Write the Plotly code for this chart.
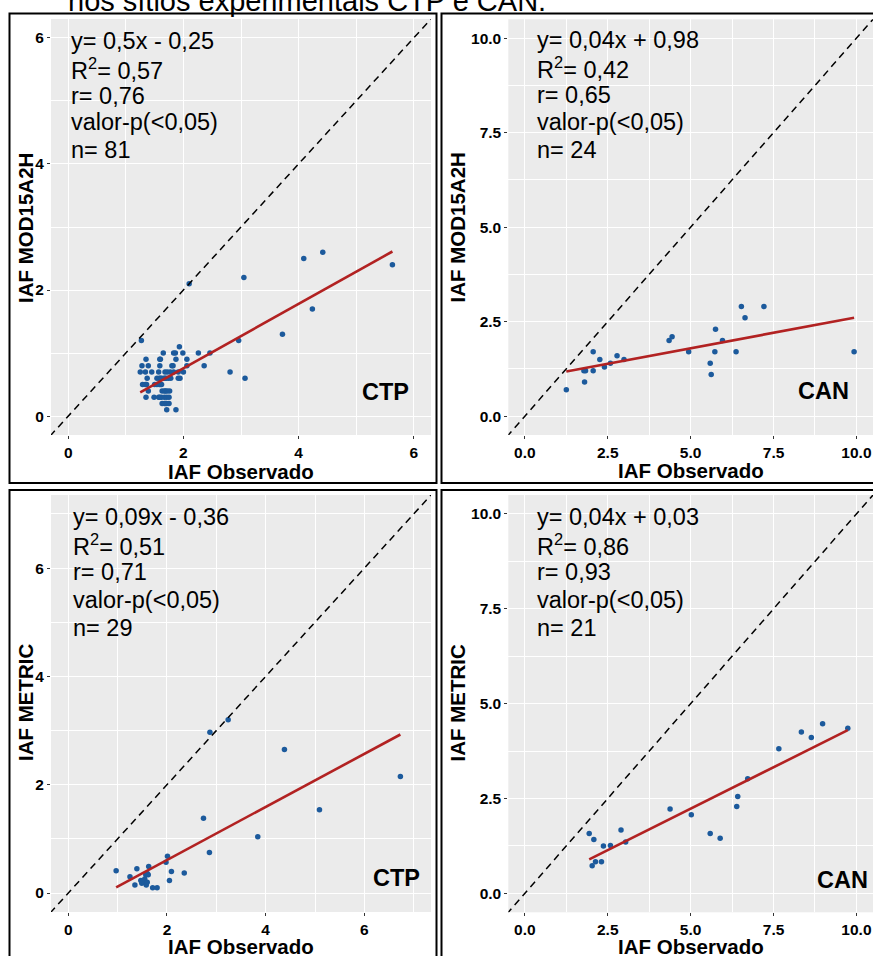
import plotly.graph_objects as go

W, H = 873, 956


def px(x):
    return x / W


def py(y):
    return 1 - y / H


# ---------------- data ----------------
# Panel 1: CTP, IAF MOD15A2H vs IAF Observado (n = 81)
ctp_mod_x = [2.10, 3.05, 4.09, 4.42, 5.63, 4.24, 3.72, 2.96, 2.81, 3.07, 1.27, 1.93,
             1.65, 1.83, 1.86, 1.99, 2.26, 2.46,
             1.35, 1.59, 1.60, 1.87, 2.06,
             1.28, 1.39, 1.59, 1.80, 1.82, 2.06, 2.36,
             1.25, 1.34, 1.45, 1.57, 1.68, 1.72, 1.77, 1.83, 1.91, 2.00,
             1.37, 1.54, 1.58, 1.60, 1.62, 1.66, 1.68, 1.70, 1.74, 1.78, 1.91, 1.94,
             1.29, 1.34, 1.36, 1.50, 1.54, 1.58, 1.60, 1.62,
             1.39, 1.63, 1.67, 1.69, 1.72, 1.76,
             1.35, 1.49, 1.57, 1.59, 1.62, 1.67, 1.71, 1.75,
             1.63, 1.67, 1.69, 1.71, 1.75,
             1.71, 1.87]
ctp_mod_y = [2.1, 2.2, 2.5, 2.6, 2.4, 1.7, 1.3, 1.2, 0.7, 0.6, 1.2, 1.1,
             1.0, 1.0, 1.0, 1.0, 1.0, 1.0,
             0.9, 0.9, 0.9, 0.9, 0.9,
             0.8, 0.8, 0.8, 0.8, 0.8, 0.8, 0.8,
             0.7, 0.7, 0.7, 0.7, 0.7, 0.7, 0.7, 0.7, 0.7, 0.7,
             0.6, 0.6, 0.6, 0.6, 0.6, 0.6, 0.6, 0.6, 0.6, 0.6, 0.6, 0.6,
             0.5, 0.5, 0.5, 0.5, 0.5, 0.5, 0.5, 0.5,
             0.4, 0.4, 0.4, 0.4, 0.4, 0.4,
             0.3, 0.3, 0.3, 0.3, 0.3, 0.3, 0.3, 0.3,
             0.2, 0.2, 0.2, 0.2, 0.2,
             0.1, 0.1]

# Panel 2: CAN, IAF MOD15A2H vs IAF Observado (n = 24)
can_mod_x = [1.25, 1.78, 1.83, 1.80, 2.06, 2.06, 2.26, 2.40, 2.58, 2.78, 2.99, 4.35,
             4.44, 4.94, 5.59, 5.62, 5.73, 5.75, 5.96, 6.37, 6.53, 6.64, 7.21, 9.93]
can_mod_y = [0.70, 1.20, 1.20, 0.90, 1.70, 1.20, 1.50, 1.30, 1.40, 1.60, 1.50, 2.00,
             2.10, 1.70, 1.40, 1.10, 1.70, 2.30, 2.00, 1.70, 2.90, 2.60, 2.90, 1.70]

# Panel 3: CTP, IAF METRIC vs IAF Observado (n = 29)
ctp_met_x = [0.97, 1.25, 1.39, 1.35, 1.47, 1.49, 1.52, 1.55, 1.58, 1.60, 1.62, 1.57,
             1.60, 1.63, 1.71, 1.80, 2.01, 1.98, 2.09, 2.05, 2.35, 2.74, 2.86, 3.84,
             2.87, 3.24, 4.38, 5.09, 6.73]
ctp_met_y = [0.41, 0.30, 0.45, 0.15, 0.23, 0.18, 0.22, 0.26, 0.15, 0.20, 0.34, 0.34,
             0.36, 0.49, 0.10, 0.10, 0.68, 0.57, 0.40, 0.23, 0.37, 1.38, 0.75, 1.04,
             2.97, 3.20, 2.65, 1.54, 2.15]

# Panel 4: CAN, IAF METRIC vs IAF Observado (n = 21)
can_met_x = [1.94, 2.08, 2.03, 2.13, 2.31, 2.37, 2.58, 2.90, 3.04, 4.38, 5.02,
             5.59, 5.89, 6.39, 6.42, 6.72, 7.66, 8.34, 8.64, 8.98, 9.74]
can_met_y = [1.58, 1.42, 0.73, 0.83, 0.83, 1.25, 1.26, 1.67, 1.35, 2.22, 2.07,
             1.58, 1.45, 2.29, 2.55, 3.02, 3.81, 4.25, 4.11, 4.47, 4.35]

# fitted lines as drawn (slope, intercept)
fit_slope = [0.51, 0.164, 0.49, 0.437]
fit_intercept = [-0.26, 0.975, -0.37, 0.045]

# statistics text
stats_text = [
    ["y= 0,5x - 0,25", "R<sup>2</sup>= 0,57", "r= 0,76", "valor-p(<0,05)", "n= 81"],
    ["y= 0,04x + 0,98", "R<sup>2</sup>= 0,42", "r= 0,65", "valor-p(<0,05)", "n= 24"],
    ["y= 0,09x - 0,36", "R<sup>2</sup>= 0,51", "r= 0,71", "valor-p(<0,05)", "n= 29"],
    ["y= 0,04x + 0,03", "R<sup>2</sup>= 0,86", "r= 0,93", "valor-p(<0,05)", "n= 21"],
]
site_labels = ["CTP", "CAN", "CTP", "CAN"]
y_titles = ["IAF MOD15A2H", "IAF MOD15A2H", "IAF METRIC", "IAF METRIC"]
x_title = "IAF Observado"

tick_ctp = [0, 2, 4, 6]
tick_can = [0, 2.5, 5.0, 7.5, 10.0]
tick_can_text = ["0.0", "2.5", "5.0", "7.5", "10.0"]

title_text = "nos sítios experimentais CTP e CAN."

# ---------------- layout geometry ----------------
FONT = "Liberation Sans, Arial, sans-serif"
panels = [
    dict(x=ctp_mod_x, y=ctp_mod_y, xd=(51, 431), yd=(435, 19), rng=(-0.3, 6.3),
         ticks=tick_ctp, ticktext=None, minor=1,
         txt_x=69, txt_y=[41.5, 68.5, 95.5, 122.5, 149.5],
         lab=(385, 392), xt=(241, 471), yt=(25, 228)),
    dict(x=can_mod_x, y=can_mod_y, xd=(508.3, 873), yd=(435, 19.3), rng=(-0.5, 10.5),
         ticks=tick_can, ticktext=tick_can_text, minor=1.25,
         txt_x=535, txt_y=[40.5, 67.5, 95, 122.5, 150],
         lab=(823, 391), xt=(691, 470), yt=(456.5, 228)),
    dict(x=ctp_met_x, y=ctp_met_y, xd=(51, 431), yd=(912, 495), rng=(-0.35, 7.35),
         ticks=tick_ctp, ticktext=None, minor=1,
         txt_x=70.5, txt_y=[517, 544.5, 572, 599.5, 627.5],
         lab=(396, 878), xt=(241, 946), yt=(25, 703)),
    dict(x=can_met_x, y=can_met_y, xd=(508.3, 873), yd=(912.3, 495), rng=(-0.5, 10.5),
         ticks=tick_can, ticktext=tick_can_text, minor=1.25,
         txt_x=535, txt_y=[517, 544.5, 572, 599.5, 627.5],
         lab=(842, 880), xt=(691, 946), yt=(456.5, 703)),
]

fig = go.Figure()
annotations = []
layout_axes = {}

for i, p in enumerate(panels):
    n = i + 1
    xa = "x" if n == 1 else f"x{n}"
    ya = "y" if n == 1 else f"y{n}"
    # points
    fig.add_trace(go.Scatter(
        x=p["x"], y=p["y"], mode="markers", xaxis=xa, yaxis=ya,
        marker=dict(size=5.5, color="#1c5a9c", line=dict(width=0)),
        showlegend=False, hoverinfo="skip"))
    # fitted line over data range
    xmin, xmax = min(p["x"]), max(p["x"])
    fig.add_trace(go.Scatter(
        x=[xmin, xmax],
        y=[fit_slope[i] * xmin + fit_intercept[i], fit_slope[i] * xmax + fit_intercept[i]],
        mode="lines", xaxis=xa, yaxis=ya,
        line=dict(color="#b22222", width=2.6),
        showlegend=False, hoverinfo="skip"))
    # 1:1 line
    lo, hi = p["rng"]
    fig.add_trace(go.Scatter(
        x=[lo - 1, hi + 1], y=[lo - 1, hi + 1], mode="lines", xaxis=xa, yaxis=ya,
        line=dict(color="black", width=1.5, dash="7px,5px"),
        showlegend=False, hoverinfo="skip"))

    axis_common = dict(
        range=list(p["rng"]), showgrid=True, gridcolor="white", gridwidth=1.3,
        zeroline=False, showline=False, ticks="outside", ticklen=3, tickwidth=1,
        tickcolor="#333333", tickvals=p["ticks"],
        tickfont=dict(family=FONT, size=15.5, color="black", weight="bold"),
        minor=dict(dtick=p["minor"], tick0=0, showgrid=True, gridcolor="white",
                   gridwidth=0.6, ticks=""),
        fixedrange=True,
    )
    if p["ticktext"] is not None:
        axis_common["ticktext"] = p["ticktext"]
    xkey = "xaxis" if n == 1 else f"xaxis{n}"
    ykey = "yaxis" if n == 1 else f"yaxis{n}"
    layout_axes[xkey] = dict(axis_common, domain=[px(p["xd"][0]), px(p["xd"][1])],
                             anchor=ya, ticklabelstandoff=0)
    layout_axes[ykey] = dict(axis_common, domain=[py(p["yd"][0]), py(p["yd"][1])],
                             anchor=xa, ticklabelstandoff=0)

    # stats text
    for t, yy in zip(stats_text[i], p["txt_y"]):
        annotations.append(dict(
            text=t, x=px(p["txt_x"]), y=py(yy), xref="paper", yref="paper",
            xanchor="left", yanchor="middle", showarrow=False,
            font=dict(family=FONT, size=23.5, color="black")))
    # site label
    annotations.append(dict(
        text=site_labels[i], x=px(p["lab"][0]), y=py(p["lab"][1]),
        xref="paper", yref="paper", xanchor="center", yanchor="middle",
        showarrow=False, font=dict(family=FONT, size=23.5, color="black", weight="bold")))
    # axis titles
    annotations.append(dict(
        text=x_title, x=px(p["xt"][0]), y=py(p["xt"][1]),
        xref="paper", yref="paper", xanchor="center", yanchor="middle",
        showarrow=False, font=dict(family=FONT, size=20.5, color="black", weight="bold")))
    annotations.append(dict(
        text=y_titles[i], x=px(p["yt"][0]), y=py(p["yt"][1]), textangle=-90,
        xref="paper", yref="paper", xanchor="center", yanchor="middle",
        showarrow=False, font=dict(family=FONT, size=20.5, color="black", weight="bold")))

# cut-off title at the very top
annotations.append(dict(
    text=title_text, x=px(66), y=py(1), xref="paper", yref="paper",
    xanchor="left", yanchor="middle", showarrow=False,
    font=dict(family=FONT, size=29, color="black")))

# panel borders
shapes = []
for (x0, x1, y0, y1) in [(9.5, 436.5, 13.5, 483), (441.5, 890, 13.5, 483),
                         (9.5, 436.5, 490, 980), (441.5, 890, 490, 980)]:
    shapes.append(dict(type="rect", xref="paper", yref="paper",
                       x0=px(x0), x1=px(x1), y0=py(y1), y1=py(y0),
                       line=dict(color="black", width=2), fillcolor="rgba(0,0,0,0)",
                       layer="above"))

fig.update_layout(
    width=W, height=H, margin=dict(l=0, r=0, t=0, b=0),
    paper_bgcolor="white", plot_bgcolor="#ebebeb",
    annotations=annotations, shapes=shapes, showlegend=False,
    **layout_axes)

fig.write_html(
    "out.html", config={"displayModeBar": False},
    post_script="document.body.style.margin='0px';document.body.style.overflow='hidden';")
